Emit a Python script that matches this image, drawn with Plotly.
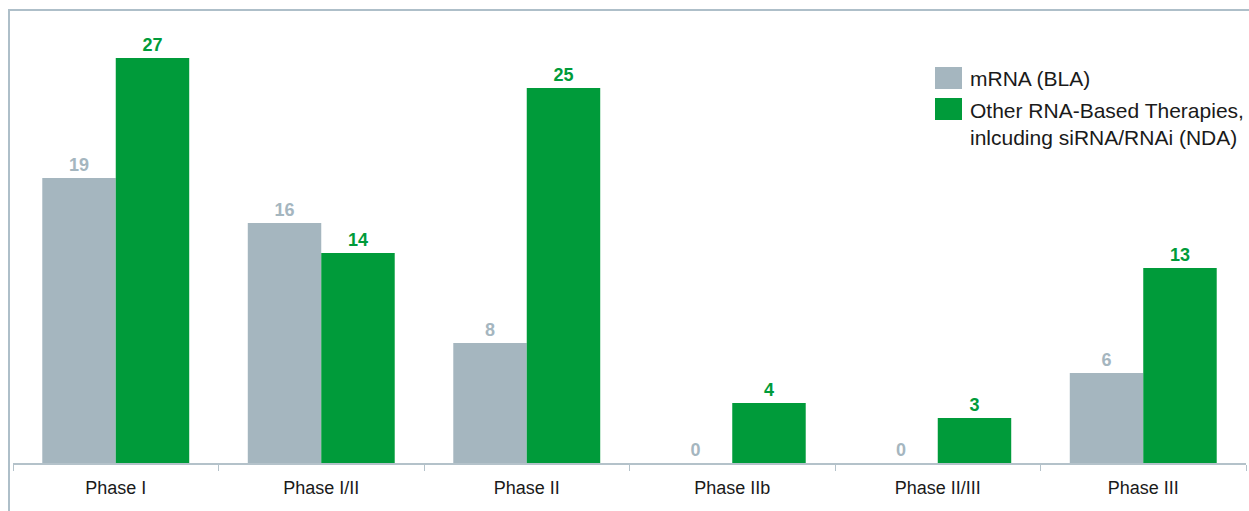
import plotly.graph_objects as go

categories = ["Phase I", "Phase I/II", "Phase II", "Phase IIb", "Phase II/III", "Phase III"]
mrna = [19, 16, 8, 0, 0, 6]
other = [27, 14, 25, 4, 3, 13]
series_names = ["mRNA (BLA)", "Other RNA-Based Therapies,<br>inlcuding siRNA/RNAi (NDA)"]

GRAY = "#a5b6bf"
GREEN = "#009b3a"
FONT = "Liberation Sans, Arial, sans-serif"

W, H = 1249, 511
ML, MR, MT, MB = 13, 3, 10, 48
PW = W - ML - MR
PH = H - MT - MB

fig = go.Figure()
for vals, name, col in [(mrna, series_names[0], GRAY), (other, series_names[1], GREEN)]:
    fig.add_trace(go.Bar(
        x=categories, y=vals, name=name,
        marker=dict(color=col, line=dict(width=0)),
        text=[str(v) for v in vals], textposition="outside",
        textfont=dict(color=col, size=18, family=FONT, weight="bold"),
        cliponaxis=False, showlegend=False,
    ))

def px_x(p):
    return (p - ML) / PW

def px_y(p):
    return (H - MB - p) / PH

# outer frame
fig.add_shape(type="rect", xref="paper", yref="paper",
              x0=px_x(9), x1=px_x(1262), y0=px_y(530), y1=px_y(10),
              line=dict(color="#aebfc9", width=2), fillcolor="rgba(0,0,0,0)", layer="below")

# legend (swatches + labels)
legend_rows = [(67, 89, 78), (98, 120, 124)]
for (y0, y1, ty), name, col in zip(legend_rows, series_names, [GRAY, GREEN]):
    fig.add_shape(type="rect", xref="paper", yref="paper",
                  x0=px_x(935), x1=px_x(962), y0=px_y(y1), y1=px_y(y0),
                  line=dict(width=0), fillcolor=col)
    fig.add_annotation(xref="paper", yref="paper", x=px_x(968), y=px_y(ty),
                       xanchor="left", yanchor="middle", align="left",
                       text=name, showarrow=False,
                       font=dict(size=21, family=FONT, color="#1a1a1a"))

fig.update_layout(
    width=W, height=H,
    margin=dict(l=ML, r=MR, t=MT, b=MB, pad=0),
    paper_bgcolor="white", plot_bgcolor="white",
    barmode="group", bargap=0.285, bargroupgap=0,
    showlegend=False,
    font=dict(family=FONT),
)
fig.update_xaxes(
    showline=True, linecolor="#b4c2ca", linewidth=1.5,
    ticks="outside", tickson="boundaries", ticklen=6, tickcolor="#b4c2ca",
    tickfont=dict(size=18, family=FONT, color="#1a1a1a"),
    ticklabelstandoff=8,
    showgrid=False,
)
fig.update_yaxes(
    range=[0, PH / 15.0], visible=False, showgrid=False, zeroline=False,
)

fig.write_html("out.html")
